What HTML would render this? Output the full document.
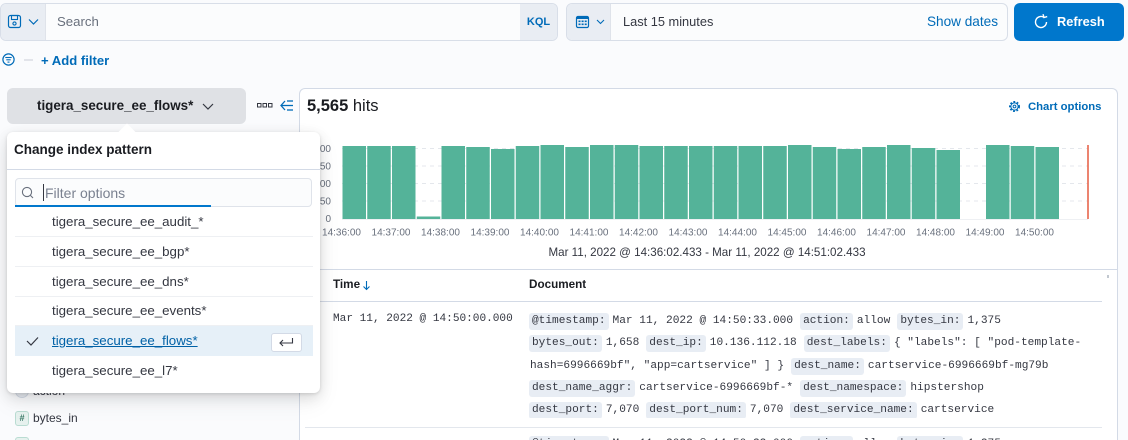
<!DOCTYPE html>
<html><head><meta charset="utf-8">
<style>
*{box-sizing:border-box;margin:0;padding:0}
html{width:1128px;height:440px;overflow:hidden}
body{width:1128px;height:440px;overflow:hidden;background:#fafbfd;font-family:"Liberation Sans",sans-serif;color:#343741;position:relative}
.a{position:absolute}
.mono{font-family:"Liberation Mono",monospace}
.ln{position:absolute;height:22.3px;line-height:17px;white-space:nowrap;font-family:"Liberation Mono",monospace;font-size:11.15px;color:#343741}
.k{display:inline-block;background:#e8edf4;padding:0 3px;border-radius:3px;margin-right:4px;height:17px;line-height:17px}
.v{margin-right:7px}
.item{position:absolute;left:8px;width:298px;height:30px;line-height:30px;padding-left:37px;font-size:13.3px;color:#343741;border-bottom:1px solid #eef0f3}
</style></head><body>

<!-- Query bar -->
<div class="a" style="left:0;top:3px;width:558px;height:38px;border:1px solid #d8dee8;border-radius:6px;background:#fbfcfd;overflow:hidden">
  <div class="a" style="left:0;top:0;width:45px;height:36px;background:#e9edf3;border-right:1px solid #dfe3ea"></div>
  <div class="a" style="left:56px;top:0;height:36px;line-height:36px;font-size:13.2px;color:#69707d">Search</div>
  <div class="a" style="right:0;top:0;width:37px;height:36px;background:#e9edf3;line-height:36px;text-align:center;font-size:11px;font-weight:bold;color:#006bb8">KQL</div>
</div>
<svg class="a" style="left:0;top:0" width="60" height="44">
  <rect x="8.5" y="15.5" width="12" height="12" rx="2" fill="none" stroke="#006bb8" stroke-width="1.2"/>
  <rect x="11.5" y="15.5" width="6" height="4" fill="none" stroke="#006bb8" stroke-width="1.1"/>
  <circle cx="14.5" cy="23.5" r="1.6" fill="none" stroke="#006bb8" stroke-width="1.1"/>
  <polyline points="29,19.5 33.5,24 38,19.5" fill="none" stroke="#006bb8" stroke-width="1.2"/>
</svg>

<!-- Date picker -->
<div class="a" style="left:566px;top:3px;width:442px;height:38px;border:1px solid #d8dee8;border-radius:6px;background:#fbfcfd;overflow:hidden">
  <div class="a" style="left:0;top:0;width:44px;height:36px;background:#e9edf3;border-right:1px solid #dfe3ea"></div>
  <div class="a" style="left:56px;top:0;height:36px;line-height:36px;font-size:12.8px;color:#343741">Last 15 minutes</div>
  <div class="a" style="right:9px;top:0;height:36px;line-height:36px;font-size:13.6px;color:#006bb8">Show dates</div>
</div>
<svg class="a" style="left:566px;top:0" width="44" height="44">
  <rect x="10.5" y="16.5" width="12" height="11" rx="1.5" fill="none" stroke="#006bb8" stroke-width="1.2"/>
  <rect x="10.5" y="16.5" width="12" height="2.5" fill="#006bb8"/>
  <g fill="#006bb8"><rect x="12.5" y="20.5" width="2" height="1.6"/><rect x="15.6" y="20.5" width="2" height="1.6"/><rect x="18.7" y="20.5" width="2" height="1.6"/><rect x="12.5" y="23.5" width="2" height="1.6"/><rect x="15.6" y="23.5" width="2" height="1.6"/><rect x="18.7" y="23.5" width="2" height="1.6"/></g>
  <polyline points="31,20 34.5,23.5 38,20" fill="none" stroke="#006bb8" stroke-width="1.1"/>
</svg>

<!-- Refresh -->
<div class="a" style="left:1014px;top:3px;width:110px;height:38px;background:#0077cc;border-radius:6px"></div>
<div class="a" style="left:1057px;top:3px;height:38px;line-height:38px;font-size:12.8px;font-weight:bold;color:#fff">Refresh</div>
<svg class="a" style="left:1028px;top:10px" width="24" height="24">
  <path d="M15.75 7.24 A5.5 5.5 0 1 0 18.5 12" fill="none" stroke="#fff" stroke-width="1.4"/>
  <polyline points="15,4.2 16,7.5 19.2,6.6" fill="none" stroke="#fff" stroke-width="1.4"/>
</svg>

<!-- Filter row -->
<svg class="a" style="left:0;top:50px" width="40" height="20">
  <circle cx="8.5" cy="9.5" r="5.6" fill="none" stroke="#006bb8" stroke-width="1.2"/>
  <line x1="5.3" y1="7.5" x2="11.7" y2="7.5" stroke="#006bb8" stroke-width="1.1"/>
  <line x1="6.3" y1="9.8" x2="10.7" y2="9.8" stroke="#006bb8" stroke-width="1.1"/>
  <line x1="7.5" y1="12.1" x2="9.5" y2="12.1" stroke="#006bb8" stroke-width="1.1"/>
  <line x1="24" y1="10" x2="33" y2="10" stroke="#c9ced6" stroke-width="1"/>
</svg>
<div class="a" style="left:41px;top:51px;line-height:20px;font-size:13.1px;font-weight:bold;color:#006bb8">+ Add filter</div>

<!-- Index pattern button -->
<div class="a" style="left:7px;top:88px;width:239px;height:36px;background:#dfe1e5;border-radius:6px"></div>
<div class="a" style="left:37px;top:88px;height:36px;line-height:36px;font-size:13.4px;font-weight:bold;color:#1a1c21">tigera_secure_ee_flows*</div>
<svg class="a" style="left:200px;top:98px" width="16" height="16">
  <polyline points="3,6 8,11 13,6" fill="none" stroke="#343741" stroke-width="1.2"/>
</svg>
<svg class="a" style="left:254px;top:96px" width="44" height="20">
  <rect x="3.5" y="7.5" width="3.5" height="3.5" fill="none" stroke="#343741" stroke-width="1"/>
  <rect x="9" y="7.5" width="3.5" height="3.5" fill="none" stroke="#343741" stroke-width="1"/>
  <rect x="14.5" y="7.5" width="3.5" height="3.5" fill="none" stroke="#343741" stroke-width="1"/>
  <polyline points="31,5 27,9.5 31,14" fill="none" stroke="#006bb8" stroke-width="1.3"/>
  <line x1="27" y1="9.5" x2="39" y2="9.5" stroke="#006bb8" stroke-width="1.3"/>
  <line x1="33" y1="5" x2="39" y2="5" stroke="#006bb8" stroke-width="1.3"/>
  <line x1="33" y1="14" x2="39" y2="14" stroke="#006bb8" stroke-width="1.3"/>
</svg>

<!-- Sidebar fields (under popover) -->
<div class="a" style="left:15px;top:384px;width:14px;height:14px;border-radius:7px;background:#e9edf3;border:1px solid #d3dae6"></div>
<div class="a" style="left:33px;top:383px;line-height:16px;font-size:12px">action</div>
<div class="a" style="left:15px;top:411px;width:14px;height:15px;border-radius:3px;background:#e6f1ee;border:1px solid #b9dcd2;font-size:9px;line-height:13px;text-align:center;color:#387765;font-weight:bold">#</div>
<div class="a" style="left:33px;top:410px;line-height:16px;font-size:12px;color:#343741">bytes_in</div>
<div class="a" style="left:15px;top:437px;width:14px;height:3px;border-radius:3px 3px 0 0;background:#e6f1ee;border:1px solid #b9dcd2;border-bottom:none"></div>

<!-- Main panel -->
<div class="a" style="left:299px;top:88px;width:819px;height:352px;background:#fff;border:1px solid #d3dae6;border-bottom:none;border-radius:6px 6px 0 0"></div>
<div class="a" style="left:307px;top:96px;line-height:21px;font-size:16.5px;color:#1a1c21"><b>5,565</b> hits</div>
<svg class="a" style="left:1006px;top:99px" width="16" height="16">
  <circle cx="8.5" cy="7.5" r="4.6" fill="none" stroke="#006bb8" stroke-width="1.8" stroke-dasharray="1.8 1.6"/>
  <circle cx="8.5" cy="7.5" r="3.6" fill="none" stroke="#006bb8" stroke-width="1"/>
  <circle cx="8.5" cy="7.5" r="1.4" fill="none" stroke="#006bb8" stroke-width="1"/>
</svg>
<div class="a" style="left:1028px;top:99px;line-height:16px;font-size:11.3px;font-weight:bold;color:#006bb8">Chart options</div>

<svg class="a" style="left:0;top:0" width="1128" height="270">
  <g stroke="#e4e7ec" stroke-width="1" stroke-dasharray="4 4">
    <line x1="342" y1="148.5" x2="1088" y2="148.5"/>
    <line x1="342" y1="166" x2="1088" y2="166"/>
    <line x1="342" y1="183.5" x2="1088" y2="183.5"/>
    <line x1="342" y1="201" x2="1088" y2="201"/>
  </g>
  <line x1="342" y1="219.5" x2="1088" y2="219.5" stroke="#eef0f3"/>
  <g font-family="Liberation Sans, sans-serif" font-size="10" fill="#69707d" text-anchor="end">
    <text x="331" y="152">200</text><text x="331" y="169.5">150</text><text x="331" y="187">100</text><text x="331" y="204.5">50</text><text x="331" y="222">0</text>
  </g>
  <g fill="#54b399">
    <rect x="342.5" y="146" width="23.5" height="73"/>
    <rect x="367.25" y="146" width="23.5" height="73"/>
    <rect x="392" y="146" width="23.5" height="73"/>
    <rect x="416.75" y="216.5" width="23.5" height="2.5"/>
    <rect x="441.5" y="146" width="23.5" height="73"/>
    <rect x="466.25" y="147" width="23.5" height="72"/>
    <rect x="491" y="149" width="23.5" height="70"/>
    <rect x="515.75" y="146" width="23.5" height="73"/>
    <rect x="540.5" y="145" width="23.5" height="74"/>
    <rect x="565.25" y="147" width="23.5" height="72"/>
    <rect x="590" y="145" width="23.5" height="74"/>
    <rect x="614.75" y="145" width="23.5" height="74"/>
    <rect x="639.5" y="146" width="23.5" height="73"/>
    <rect x="664.25" y="146" width="23.5" height="73"/>
    <rect x="689" y="146" width="23.5" height="73"/>
    <rect x="713.75" y="146" width="23.5" height="73"/>
    <rect x="738.5" y="146" width="23.5" height="73"/>
    <rect x="763.25" y="146" width="23.5" height="73"/>
    <rect x="788" y="145" width="23.5" height="74"/>
    <rect x="812.75" y="147" width="23.5" height="72"/>
    <rect x="837.5" y="149" width="23.5" height="70"/>
    <rect x="862.25" y="147" width="23.5" height="72"/>
    <rect x="887" y="145" width="23.5" height="74"/>
    <rect x="911.75" y="148" width="23.5" height="71"/>
    <rect x="936.5" y="150" width="23.5" height="69"/>
    <rect x="986" y="145" width="23.5" height="74"/>
    <rect x="1010.75" y="146" width="23.5" height="73"/>
    <rect x="1035.5" y="147" width="23.5" height="72"/>
  </g>
  <line x1="1088" y1="145" x2="1088" y2="219" stroke="#e7664c" stroke-width="1.6"/>
  <g font-family="Liberation Sans, sans-serif" font-size="10" fill="#69707d" text-anchor="middle">
    <text x="341.5" y="235.5">14:36:00</text><text x="391" y="235.5">14:37:00</text><text x="440.5" y="235.5">14:38:00</text><text x="490" y="235.5">14:39:00</text><text x="539.5" y="235.5">14:40:00</text><text x="589" y="235.5">14:41:00</text><text x="638.5" y="235.5">14:42:00</text><text x="688" y="235.5">14:43:00</text><text x="737.5" y="235.5">14:44:00</text><text x="787" y="235.5">14:45:00</text><text x="836.5" y="235.5">14:46:00</text><text x="886" y="235.5">14:47:00</text><text x="935.5" y="235.5">14:48:00</text><text x="985" y="235.5">14:49:00</text><text x="1034.5" y="235.5">14:50:00</text>
  </g>
</svg>
<div class="a" style="left:407px;top:245px;width:600px;text-align:center;line-height:16px;font-size:11.6px;color:#343741">Mar 11, 2022 @ 14:36:02.433 - Mar 11, 2022 @ 14:51:02.433</div>

<!-- Table -->
<div class="a" style="left:299px;top:269px;width:819px;height:1px;background:#d3dae6"></div>
<div class="a" style="left:1107px;top:275px;width:2px;height:3px;background:#c2c8d0"></div>
<div class="a" style="left:333px;top:277px;line-height:16px;font-size:11.7px;font-weight:bold;color:#1a1c21">Time</div>
<svg class="a" style="left:360px;top:279px" width="14" height="14">
  <line x1="6.5" y1="2" x2="6.5" y2="10.5" stroke="#006bb8" stroke-width="1.1"/>
  <polyline points="3.5,7.5 6.5,10.5 9.5,7.5" fill="none" stroke="#006bb8" stroke-width="1.1"/>
</svg>
<div class="a" style="left:529px;top:277px;line-height:16px;font-size:11.7px;font-weight:bold;color:#1a1c21">Document</div>
<div class="a" style="left:305px;top:301px;width:797px;height:1px;background:#d3dae6"></div>
<div class="a" style="left:305px;top:427px;width:797px;height:1px;background:#e3e7ed"></div>

<div class="a mono" style="left:333px;top:310.5px;line-height:17px;font-size:11.1px;color:#343741;white-space:nowrap">Mar 11, 2022 @ 14:50:00.000</div>

<div class="a" style="left:529px;top:313px;width:580px;height:105px;overflow:hidden">
  <div class="ln" style="left:0;top:0"><span class="k">@timestamp:</span><span class="v">Mar 11, 2022 @ 14:50:33.000</span><span class="k">action:</span><span class="v">allow</span><span class="k">bytes_in:</span><span class="v">1,375</span></div>
  <div class="ln" style="left:0;top:22.3px"><span class="k">bytes_out:</span><span class="v">1,658</span><span class="k">dest_ip:</span><span class="v">10.136.112.18</span><span class="k">dest_labels:</span><span>{ "labels": [ "pod-template-</span></div>
  <div class="ln" style="left:1px;top:44.6px"><span class="v">hash=6996669bf", "app=cartservice" ] }</span><span class="k">dest_name:</span><span class="v">cartservice-6996669bf-mg79b</span></div>
  <div class="ln" style="left:0;top:66.9px"><span class="k">dest_name_aggr:</span><span class="v">cartservice-6996669bf-*</span><span class="k">dest_namespace:</span><span class="v">hipstershop</span></div>
  <div class="ln" style="left:0;top:89.2px"><span class="k">dest_port:</span><span class="v">7,070</span><span class="k">dest_port_num:</span><span class="v">7,070</span><span class="k">dest_service_name:</span><span class="v">cartservice</span></div>
</div>
<div class="a" style="left:529px;top:436px;width:580px;height:4px;overflow:hidden">
  <div class="ln" style="left:0;top:0"><span class="k">@timestamp:</span><span class="v">Mar 11, 2022 @ 14:50:33.000</span><span class="k">action:</span><span class="v">allow</span><span class="k">bytes_in:</span><span class="v">1,375</span></div>
</div>

<!-- Popover -->
<div class="a" style="left:7px;top:132px;width:313px;height:261px;background:#fff;border-radius:6px;box-shadow:0 1px 3px rgba(0,0,0,.12),0 4px 14px rgba(0,0,0,.12),0 10px 24px rgba(0,0,0,.06)"></div>
<div class="a" style="left:121px;top:126px;width:12px;height:12px;background:#fff;transform:rotate(45deg)"></div>
<div class="a" style="left:7px;top:132px;width:313px;height:261px;border-radius:6px;overflow:hidden">
  <div class="a" style="left:7px;top:9px;line-height:18px;font-size:13.5px;font-weight:bold;color:#1a1c21">Change index pattern</div>
  <div class="a" style="left:0;top:37px;width:313px;height:1px;background:#d3dae6"></div>
  <div class="a" style="left:8px;top:46px;width:297px;height:29px;border:1px solid #dfe3ea;border-radius:4px;background:#fbfcfd"></div>
  <div class="a" style="left:8px;top:73px;width:196px;height:2px;background:#0077cc"></div>
  <svg class="a" style="left:12px;top:52px" width="20" height="18">
    <circle cx="8" cy="8" r="4.6" fill="none" stroke="#69707d" stroke-width="1.1"/>
    <line x1="11.4" y1="11.4" x2="14" y2="14" stroke="#69707d" stroke-width="1.1"/>
  </svg>
  <div class="a" style="left:36px;top:52px;width:1px;height:17px;background:#343741"></div>
  <div class="a" style="left:38px;top:51px;line-height:20px;font-size:14px;color:#7a8190">Filter options</div>

  <div class="item" style="top:75px">tigera_secure_ee_audit_*</div>
  <div class="item" style="top:105px">tigera_secure_ee_bgp*</div>
  <div class="item" style="top:135px">tigera_secure_ee_dns*</div>
  <div class="item" style="top:164px">tigera_secure_ee_events*</div>
  <div class="item" style="top:194px;background:#e6f0f8;border-bottom:none;color:#0061a6;text-decoration:underline">tigera_secure_ee_flows*</div>
  <div class="item" style="top:224px;border-bottom:none">tigera_secure_ee_l7*</div>
  <svg class="a" style="left:16px;top:200px" width="20" height="18">
    <polyline points="4,9 8,13 15,5.5" fill="none" stroke="#343741" stroke-width="1.2"/>
  </svg>
  <div class="a" style="left:264px;top:201px;width:31px;height:19px;background:#fff;border:1px solid #d3dae6;border-radius:3px"></div>
  <svg class="a" style="left:264px;top:201px" width="31" height="19">
    <polyline points="21.5,5 21.5,10 9,10" fill="none" stroke="#343741" stroke-width="1.1"/>
    <polyline points="12,7 9,10 12,13" fill="none" stroke="#343741" stroke-width="1.1"/>
  </svg>
</div>

</body></html>
